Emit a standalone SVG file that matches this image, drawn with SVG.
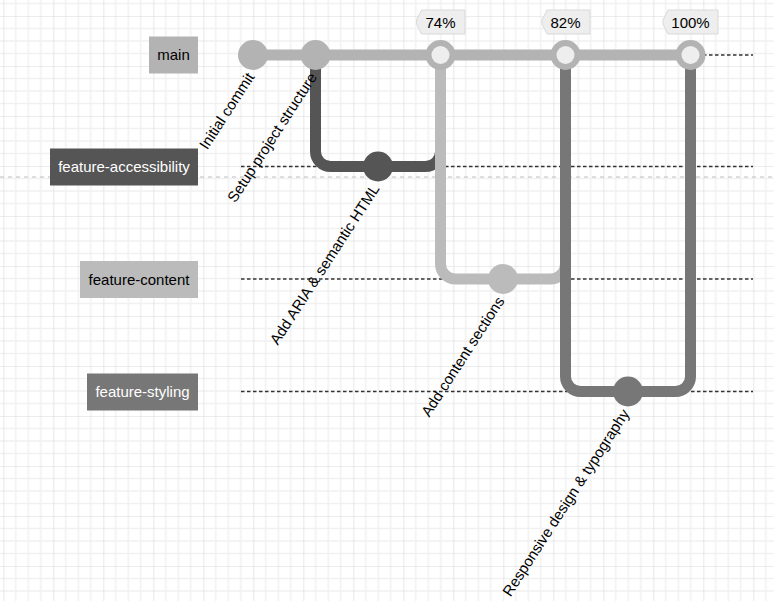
<svg xmlns="http://www.w3.org/2000/svg" width="774" height="601" viewBox="0 0 774 601">
  <defs>
    <pattern id="grid" patternUnits="userSpaceOnUse" x="3.33" y="16" width="50" height="50">
      <g stroke="#f1f1f1" stroke-width="1.6">
        <line x1="12.5" y1="0" x2="12.5" y2="50"/>
        <line x1="25" y1="0" x2="25" y2="50"/>
        <line x1="37.5" y1="0" x2="37.5" y2="50"/>
        <line x1="0" y1="12.5" x2="50" y2="12.5"/>
        <line x1="0" y1="25" x2="50" y2="25"/>
        <line x1="0" y1="37.5" x2="50" y2="37.5"/>
      </g>
      <g stroke="#d9d9d9" stroke-width="1.2">
        <line x1="0" y1="0" x2="0" y2="50"/>
        <line x1="0" y1="0" x2="50" y2="0"/>
      </g>
    </pattern>
    <style>
      .branch { stroke: #333; stroke-width: 1.5; stroke-dasharray: 3.5 2.5; fill: none; }
      .arrow { fill: none; stroke-width: 11; stroke-linecap: butt; stroke-linejoin: round; }
      .lbl { font-family: "Liberation Sans", Arial, sans-serif; font-size: 15px; text-anchor: middle; }
      .clbl { font-family: "Liberation Sans", Arial, sans-serif; font-size: 15px; text-anchor: end; fill: #000; }
      .tag { fill: #eeeeee; stroke: #d9d9d9; stroke-width: 1; }
      .tagtxt { font-family: "Liberation Sans", Arial, sans-serif; font-size: 15px; text-anchor: middle; fill: #000; }
    </style>
  </defs>
  <rect x="0" y="0" width="774" height="601" fill="#ffffff"/>
  <rect x="0" y="0" width="774" height="601" fill="url(#grid)"/>

  <g id="branch-lines">
    <line class="branch" x1="241" y1="55" x2="753" y2="55"/>
    <line class="branch" x1="241" y1="166.5" x2="753" y2="166.5"/>
    <line class="branch" x1="241" y1="279" x2="753" y2="279"/>
    <line class="branch" x1="241" y1="391.5" x2="753" y2="391.5"/>
    <line x1="0" y1="177" x2="774" y2="177" stroke="#bdbdbd" stroke-width="1.2" stroke-dasharray="4 4"/>
  </g>

  <g id="connectors">
    <path class="arrow" stroke="#b3b3b3" d="M253 55 L690.5 55"/>
    <path class="arrow" stroke="#555555" d="M315.5 55 L315.5 151.5 A15 15 0 0 0 330.5 166.5 L378 166.5"/>
    <path class="arrow" stroke="#555555" d="M378 166.5 L425.5 166.5 A15 15 0 0 0 440.5 151.5 L440.5 55"/>
    <path class="arrow" stroke="#bbbbbb" d="M440.5 55 L440.5 264 A15 15 0 0 0 455.5 279 L503 279"/>
    <path class="arrow" stroke="#bbbbbb" d="M503 279 L550.5 279 A15 15 0 0 0 565.5 264 L565.5 55"/>
    <path class="arrow" stroke="#777777" d="M565.5 55 L565.5 376.5 A15 15 0 0 0 580.5 391.5 L628 391.5"/>
    <path class="arrow" stroke="#777777" d="M628 391.5 L675.5 391.5 A15 15 0 0 0 690.5 376.5 L690.5 55"/>
  </g>

  <g id="label-main">
    <rect x="149" y="36.5" width="49" height="37" fill="#b3b3b3"/>
    <text class="lbl" x="173.5" y="60" fill="#000">main</text>
  </g>
  <g id="label-feature-accessibility">
    <rect x="50" y="148.5" width="148" height="37" fill="#555555"/>
    <text class="lbl" x="124" y="172" fill="#ffffff">feature-accessibility</text>
  </g>
  <g id="label-feature-content">
    <rect x="80" y="261" width="118" height="37" fill="#bbbbbb"/>
    <text class="lbl" x="139" y="284.5" fill="#000">feature-content</text>
  </g>
  <g id="label-feature-styling">
    <rect x="87" y="373.5" width="111" height="37" fill="#777777"/>
    <text class="lbl" x="142.5" y="397" fill="#ffffff">feature-styling</text>
  </g>

  <g id="commit-initial">
    <circle cx="253" cy="55" r="15" fill="#b3b3b3"/>
    <text class="clbl" transform="translate(255 77) rotate(-57)">Initial commit</text>
  </g>
  <g id="commit-setup">
    <circle cx="315.5" cy="55" r="15" fill="#b3b3b3"/>
    <text class="clbl" transform="translate(317.5 77) rotate(-57)">Setup project structure</text>
  </g>
  <g id="commit-aria">
    <circle cx="378" cy="166.5" r="15" fill="#555555"/>
    <text class="clbl" transform="translate(380 188.5) rotate(-57)">Add ARIA &amp; semantic HTML</text>
  </g>
  <g id="commit-merge-74">
    <circle cx="440.5" cy="55" r="15" fill="#b3b3b3"/>
    <circle cx="440.5" cy="55" r="9" fill="#eeeeee"/>
    <polygon class="tag" points="421.5,10 465,10 465,34 421.5,34 416.5,24 416.5,20"/>
    <text class="tagtxt" x="440.5" y="27.5">74%</text>
  </g>
  <g id="commit-content">
    <circle cx="503" cy="279" r="15" fill="#bbbbbb"/>
    <text class="clbl" transform="translate(505 301) rotate(-57)">Add content sections</text>
  </g>
  <g id="commit-merge-82">
    <circle cx="565.5" cy="55" r="15" fill="#b3b3b3"/>
    <circle cx="565.5" cy="55" r="9" fill="#eeeeee"/>
    <polygon class="tag" points="547,10 590,10 590,34 547,34 542,24 542,20"/>
    <text class="tagtxt" x="565.5" y="27.5">82%</text>
  </g>
  <g id="commit-styling">
    <circle cx="628" cy="391.5" r="15" fill="#777777"/>
    <text class="clbl" transform="translate(630 413.5) rotate(-57)">Responsive design &amp; typography</text>
  </g>
  <g id="commit-merge-100">
    <circle cx="690.5" cy="55" r="15" fill="#b3b3b3"/>
    <circle cx="690.5" cy="55" r="9" fill="#eeeeee"/>
    <polygon class="tag" points="668,10 718,10 718,34 668,34 663,24 663,20"/>
    <text class="tagtxt" x="690.5" y="27.5">100%</text>
  </g>
</svg>
